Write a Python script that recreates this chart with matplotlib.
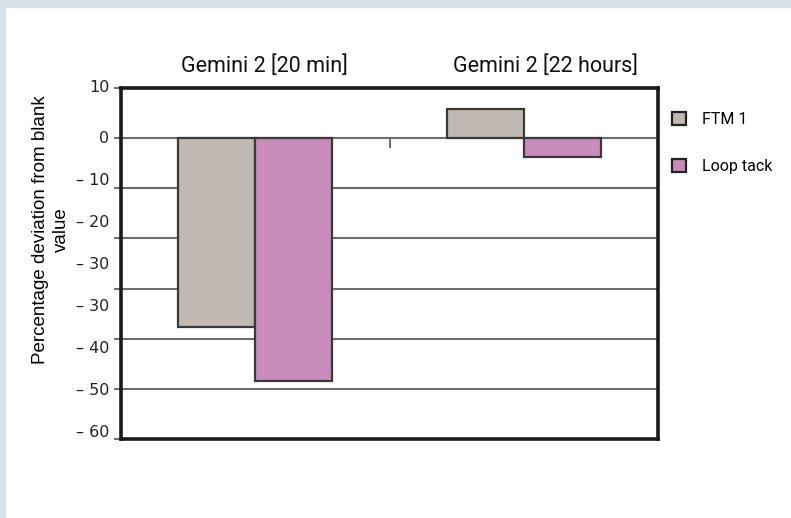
import numpy as np
import matplotlib.pyplot as plt
import matplotlib.transforms as mtransforms
from matplotlib.patches import Patch

# data
groups = ["Gemini 2 [20 min]", "Gemini 2 [22 hours]"]
series = ["FTM 1", "Loop tack"]
ftm1 = [-37.7, 5.9]
loop_tack = [-48.4, -3.7]
colors = ["#bfb8b3", "#c98bb9"]

grid_vals = [10, 0, -10, -20, -30, -40, -50, -60]
ytick_text = ["10", "0", "– 10", "– 20", "– 30", "– 30", "– 40", "– 50", "– 60"]

fig = plt.figure(figsize=(7.91, 5.18), dpi=100, facecolor="white")
# light frame at the top and left edge
fig.patches.append(plt.Rectangle((0, 1 - 7 / 518), 1, 7 / 518, transform=fig.transFigure,
                                 color="#dae2e9", zorder=0))
fig.patches.append(plt.Rectangle((0, 0), 5 / 791, 1, transform=fig.transFigure,
                                 color="#dae2e9", zorder=0))

ax = fig.add_axes([121 / 791, 79 / 518, 537 / 791, 351 / 518])
ax.set_xlim(0, 2)
ax.set_ylim(-60, 10)

x = np.arange(len(groups)) + 0.5
w = 0.287
for vals, c, off in [(ftm1, colors[0], -w / 2), (loop_tack, colors[1], w / 2)]:
    ax.bar(x + off, vals, width=w, color=c, edgecolor="#3a3a3a", linewidth=1.6, zorder=3)

# gridlines
for v in grid_vals[1:-1]:
    ax.axhline(v, color="#6e6e6e", linewidth=1.5, zorder=1)

for s in ax.spines.values():
    s.set_linewidth(2.6)
    s.set_color("#1a1a1a")

# y ticks: marks on the grid, labels squeezed as in the original
ax.set_yticks(grid_vals)
ax.set_yticklabels([])
ax.tick_params(axis="y", which="major", length=5, width=1.2, color="#555555")
label_pos = [10] + list(np.arange(8) * -8.4)
tr = mtransforms.blended_transform_factory(ax.transAxes, ax.transData)
for p, t in zip(label_pos, ytick_text):
    ax.text(-0.022, p, t, transform=tr, ha="right", va="center", fontsize=11.5,
            color="#222222")

ax.set_xticks([])
# category axis crossing at zero
sec = ax.secondary_xaxis(60 / 70)
sec.set_xticks([1])
sec.set_xticklabels([])
sec.tick_params(direction="in", length=7, width=1.2, color="#555555")
sec.spines["bottom"].set_visible(False)
sec.spines["top"].set_visible(False)

for xi, g, dx in zip(x, groups, [0.035, 0.08]):
    ax.text(xi + dx, 10 + 2.2, g, ha="center", va="bottom", fontsize=15.5,
            family="Roboto", color="#111111")

fig.text(51 / 791, 1 - 230 / 518, "Percentage deviation from blank\nvalue", rotation=90,
         ha="center", va="center", multialignment="center", fontsize=13.5,
         family="Liberation Sans", linespacing=1.25)

handles = [Patch(facecolor=c, edgecolor="#222222", linewidth=1.6) for c in colors]
leg = fig.legend(handles, series, loc="upper left", bbox_to_anchor=(658 / 791, 1 - 98 / 518),
                 frameon=False, handlelength=0.85, handleheight=0.85, handletextpad=1.0,
                 labelspacing=2.0, prop={"family": "Roboto", "size": 11.5})

fig.savefig("out.png", dpi=100, facecolor="white")
